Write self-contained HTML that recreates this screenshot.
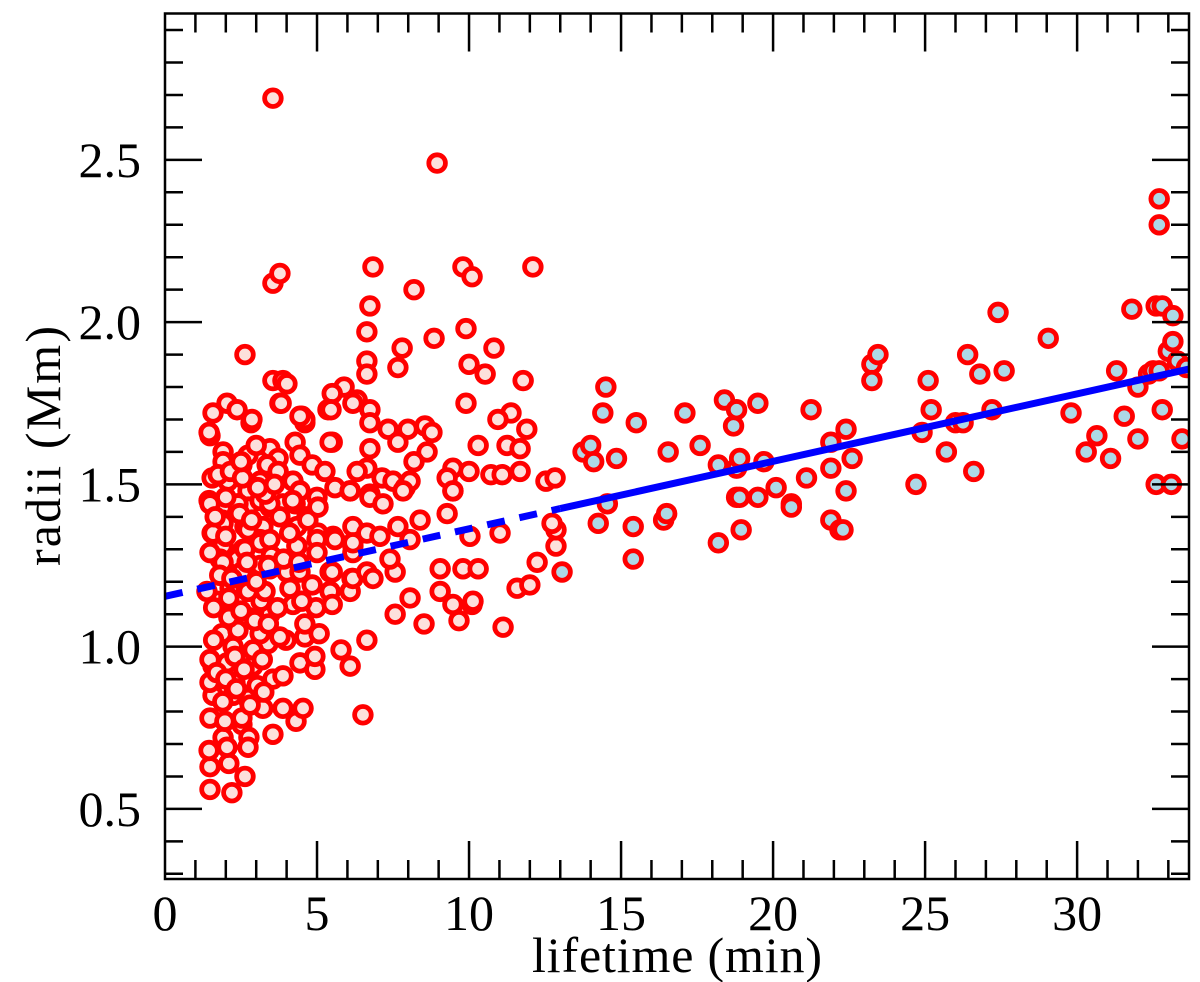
<!DOCTYPE html>
<html><head><meta charset="utf-8"><style>
html,body{margin:0;padding:0;background:#fff;}
svg{display:block;}
text{font-family:"Liberation Serif",serif;fill:#000;}
</style></head><body>
<svg id="chart" width="1200" height="982" viewBox="0 0 1200 982" xmlns="http://www.w3.org/2000/svg">
<defs><clipPath id="plotclip"><rect x="165" y="13.5" width="1024" height="865.5"/></clipPath></defs>
<g id="marks" clip-path="url(#plotclip)"></g>
<g id="axes"></g>
<text x="677" y="972" text-anchor="middle" font-size="50" textLength="290">lifetime (min)</text>
<text transform="translate(60,446) rotate(-90)" text-anchor="middle" font-size="50" textLength="240">radii (Mm)</text>
</svg>
<script>
const lifetimes = [3.55,8.95,3.55,3.78,6.84,9.8,10.1,12.1,8.19,6.74,6.64,8.85,9.9,10.82,7.8,7.66,6.64,6.64,10.0,10.53,11.78,3.55,3.88,4.01,3.78,5.89,5.5,5.36,4.6,4.5,6.32,6.74,6.74,7.34,7.99,7.66,8.55,8.78,8.62,8.19,9.9,11.38,10.95,11.9,10.3,11.25,11.68,9.47,10.0,10.72,11.09,11.68,12.53,12.83,9.47,6.74,5.5,2.83,1.58,1.48,2.63,
6.64,6.32,7.14,7.5,7.9,8.06,6.74,9.28,
2.04,2.37,2.86,3.82,1.45,4.6,4.44,5.46,5.43,6.18,1.91,1.91,2.53,2.73,3.45,3.72,3.36,4.28,4.44,4.84,5.26,1.55,2.07,2.73,3.13,3.72,4.21,4.44,5.0,5.59,6.09,1.45,1.88,2.4,2.73,3.13,3.45,3.88,4.28,4.67,5.03,1.55,1.88,2.63,3.22,3.78,4.34,5.03,5.53,6.18,1.91,2.57,3.13,4.34,5.0,6.18,2.37,1.81,3.13,4.01,4.37,5.43,6.15,2.2,2.8,3.22,4.84,5.43,6.09,
1.48,2.2,1.48,2.1,2.63,1.45,1.91,2.53,2.76,2.73,2.04,3.55,1.48,1.97,2.53,3.22,3.88,4.31,4.54,6.51,1.58,2.73,2.24,1.48,2.3,3.03,3.55,1.58,2.04,2.89,3.88,4.44,4.93,4.93,6.09,5.79,6.64,2.24,1.48,3.13,3.98,4.6,5.07,4.6,3.39,1.88,2.4,3.13,3.78,2.1,2.73,3.45,4.21,4.97,5.5,1.71,3.16,4.5,2.14,2.73,3.29,4.11,1.38,3.45,2.53,4.01,4.44,5.5,6.18,6.64,6.84,7.57,1.91,1.48,2.63,3.13,4.34,5.0,6.18,7.4,1.91,1.58,2.73,3.45,4.7,5.59,6.18,6.64,7.07,7.66,8.06,8.39,9.28,10.03,11.02,1.48,2.4,3.45,5.03,6.09,6.74,7.17,7.83,9.47,9.8,10.3,9.05,10.1,7.57,8.06,8.52,9.05,9.47,9.67,10.13,11.12,11.58,12.0,12.24,12.86,12.86,12.73,13.06,
1.7,2.0,2.3,2.6,2.9,3.2,1.6,2.1,2.5,2.95,3.4,3.7,1.8,2.2,2.7,3.0,3.5,3.9,1.65,2.0,2.45,2.85,3.3,4.1,1.75,2.15,2.55,3.05,3.6,4.2,1.9,2.35,2.8,3.25,1.6,2.0,2.5,3.0,3.4,4.4,
13.75,14.0,14.1,14.25,14.5,14.4,14.55,14.85,15.5,15.4,15.4,16.55,16.4,16.5,17.1,17.6,18.2,18.2,18.4,18.7,18.8,18.8,18.9,18.8,18.9,18.95,19.5,19.7,19.5,20.1,20.6,20.6,21.1,21.25,21.9,21.9,21.9,22.2,22.3,22.4,22.4,22.6,23.25,23.25,23.45,24.7,24.9,25.1,25.2,25.7,26.0,26.25,26.4,26.6,26.8,27.2,27.4,27.6,29.05,29.8,30.3,30.65,31.1,31.3,31.55,31.8,32.0,32.0,32.35,32.5,32.6,32.7,32.7,32.8,32.6,32.8,33.0,33.15,33.15,33.1,33.3,33.45,33.6,32.7];
const radii = [2.69,2.49,2.12,2.15,2.17,2.17,2.14,2.17,2.10,2.05,1.97,1.95,1.98,1.92,1.92,1.86,1.88,1.84,1.87,1.84,1.82,1.82,1.82,1.81,1.75,1.80,1.78,1.73,1.69,1.71,1.76,1.73,1.69,1.67,1.67,1.63,1.68,1.66,1.60,1.57,1.75,1.72,1.70,1.67,1.62,1.62,1.61,1.55,1.54,1.53,1.53,1.54,1.51,1.52,1.48,1.61,1.63,1.69,1.72,1.65,1.90,
1.55,1.54,1.52,1.51,1.49,1.51,1.47,1.52,
1.75,1.73,1.70,1.75,1.66,1.70,1.71,1.73,1.63,1.75,1.60,1.57,1.56,1.59,1.61,1.58,1.56,1.63,1.59,1.56,1.54,1.52,1.51,1.48,1.51,1.54,1.51,1.48,1.46,1.49,1.48,1.45,1.43,1.44,1.43,1.45,1.43,1.44,1.44,1.40,1.43,1.35,1.39,1.37,1.37,1.40,1.37,1.35,1.34,1.37,1.31,1.30,1.33,1.31,1.33,1.31,1.27,1.27,1.25,1.24,1.23,1.23,1.21,1.19,1.18,1.17,1.19,1.17,1.17,
0.56,0.55,0.63,0.64,0.60,0.68,0.72,0.76,0.72,0.69,0.69,0.73,0.78,0.77,0.78,0.81,0.81,0.77,0.81,0.79,0.85,0.84,0.85,0.89,0.89,0.88,0.90,0.94,0.95,0.94,0.91,0.95,0.93,0.97,0.94,0.99,1.02,1.00,0.96,1.00,1.02,1.03,1.04,1.07,1.01,1.04,1.05,1.04,1.03,1.09,1.09,1.10,1.13,1.12,1.13,1.14,1.14,1.14,1.18,1.17,1.17,1.18,1.17,1.24,1.23,1.23,1.23,1.23,1.21,1.23,1.21,1.23,1.26,1.29,1.30,1.32,1.31,1.29,1.29,1.27,1.38,1.35,1.36,1.33,1.39,1.33,1.32,1.35,1.34,1.37,1.33,1.39,1.41,1.34,1.35,1.44,1.44,1.44,1.43,1.48,1.46,1.44,1.48,1.48,1.24,1.24,1.24,1.13,1.10,1.15,1.07,1.17,1.13,1.08,1.14,1.06,1.18,1.19,1.26,1.31,1.36,1.38,1.23,
0.92,0.90,0.97,0.93,0.99,0.96,1.12,1.15,1.11,1.08,1.07,1.12,1.22,1.21,1.26,1.20,1.28,1.27,1.40,1.46,1.41,1.39,1.47,1.35,1.53,1.54,1.52,1.49,1.50,1.45,0.83,0.87,0.82,0.86,1.02,1.34,1.57,1.62,1.25,1.26,
1.60,1.62,1.57,1.38,1.80,1.72,1.44,1.58,1.69,1.37,1.27,1.60,1.39,1.41,1.72,1.62,1.32,1.56,1.76,1.68,1.73,1.55,1.58,1.46,1.46,1.36,1.75,1.57,1.46,1.49,1.44,1.43,1.52,1.73,1.39,1.63,1.55,1.36,1.36,1.67,1.48,1.58,1.87,1.82,1.90,1.50,1.66,1.82,1.73,1.60,1.69,1.69,1.90,1.54,1.84,1.73,2.03,1.85,1.95,1.72,1.60,1.65,1.58,1.85,1.71,2.04,1.64,1.80,1.84,1.85,2.05,2.38,2.30,2.05,1.50,1.73,1.91,2.02,1.94,1.50,1.88,1.64,1.86,1.85];
const xTickLabels = ["0","5","10","15","20","25","30"];
const yTickLabels = ["0.5","1.0","1.5","2.0","2.5"];
const fitIntercept = [1.155];
const fitSlope = [0.0208];
const fitDashEnd = [13.0];

const X0=165, X1=1189, Y0=879, Y1=13.5;
const xMin=0, xMax=33.68, yMin=0.284, yMax=2.951;
const sx = v => X0 + (v - xMin) / (xMax - xMin) * (X1 - X0);
const sy = v => Y0 - (v - yMin) / (yMax - yMin) * (Y0 - Y1);
const NS = "http://www.w3.org/2000/svg";
const marks = document.getElementById('marks');
const axes = document.getElementById('axes');

for (let i = 0; i < lifetimes.length; i++) {
  const c = document.createElementNS(NS, 'circle');
  c.setAttribute('cx', sx(lifetimes[i]));
  c.setAttribute('cy', sy(radii[i]));
  c.setAttribute('r', 8.3);
  c.setAttribute('fill', lifetimes[i] > 13 ? '#add8e6' : '#fde0dc');
  c.setAttribute('stroke', '#ff0000');
  c.setAttribute('stroke-width', 4.8);
  
  
  marks.appendChild(c);
}

const fy = x => fitIntercept[0] + fitSlope[0] * x;
const dashed = document.createElementNS(NS, 'line');
dashed.setAttribute('x1', sx(0)); dashed.setAttribute('y1', sy(fy(0)));
dashed.setAttribute('x2', sx(fitDashEnd[0])); dashed.setAttribute('y2', sy(fy(fitDashEnd[0])));
dashed.setAttribute('stroke', '#0000ff'); dashed.setAttribute('stroke-width', 7);
dashed.setAttribute('stroke-dasharray', '18 15');


marks.appendChild(dashed);
const solid = document.createElementNS(NS, 'line');
solid.setAttribute('x1', sx(fitDashEnd[0])); solid.setAttribute('y1', sy(fy(fitDashEnd[0])));
solid.setAttribute('x2', sx(xMax)); solid.setAttribute('y2', sy(fy(xMax)));
solid.setAttribute('stroke', '#0000ff'); solid.setAttribute('stroke-width', 7);


marks.appendChild(solid);

function ln(x1,y1,x2,y2,w){
  const l=document.createElementNS(NS,'line');
  l.setAttribute('x1',x1);l.setAttribute('y1',y1);l.setAttribute('x2',x2);l.setAttribute('y2',y2);
  l.setAttribute('stroke','#000');l.setAttribute('stroke-width',w||2.5);
  
  
  axes.appendChild(l);
}
const frame=document.createElementNS(NS,'rect');
frame.setAttribute('x',X0);frame.setAttribute('y',Y1);frame.setAttribute('width',X1-X0);frame.setAttribute('height',Y0-Y1);
frame.setAttribute('fill','none');frame.setAttribute('stroke','#000');frame.setAttribute('stroke-width',2.5);


axes.appendChild(frame);
for (let v=1; v<=33; v++){
  const x=sx(v), L=(v%5===0)?38:19;
  ln(x,Y0,x,Y0-L); ln(x,Y1,x,Y1+L);
}
for (let k=3; k<=29; k++){
  const v=k/10, y=sy(v), L=(k%5===0)?37:18;
  ln(X0,y,X0+L,y); ln(X1,y,X1-L,y);
}
xTickLabels.forEach(s=>{
  const t=document.createElementNS(NS,'text');
  t.setAttribute('x',sx(parseFloat(s)));t.setAttribute('y',930);
  t.setAttribute('text-anchor','middle');t.setAttribute('font-size',50);
  t.textContent=s;
  
  
  axes.appendChild(t);
});
yTickLabels.forEach(s=>{
  const t=document.createElementNS(NS,'text');
  t.setAttribute('x',141);t.setAttribute('y',sy(parseFloat(s))+17);
  t.setAttribute('text-anchor','end');t.setAttribute('font-size',50);
  t.textContent=s;
  
  
  axes.appendChild(t);
});
</script>
</body></html>
